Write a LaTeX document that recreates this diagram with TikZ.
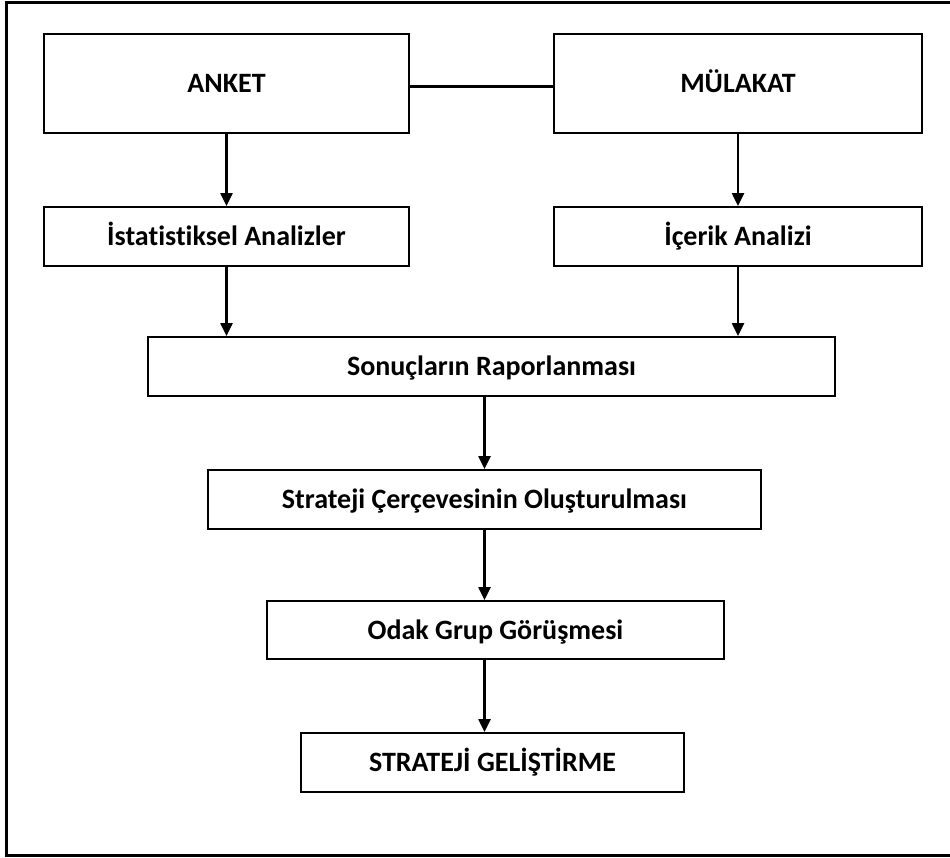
\documentclass[tikz,border=0pt]{standalone}
\usepackage{fontspec}
\setmainfont{Carlito}[Ligatures=NoCommon]
\usetikzlibrary{arrows.meta, calc}

\tikzset{
  stepbox/.style={draw, line width=1.8pt, rectangle, inner sep=0pt,
    text height=20pt, text depth=2pt,
    font=\fontsize{28}{32}\selectfont\bfseries, anchor=center},
  flow/.style={-{Triangle[width=12pt,length=13pt]}, line width=2.2pt}
}

\begin{document}
\begin{tikzpicture}[x=1pt,y=-1pt]
  \useasboundingbox (0,0) rectangle (950,857);
  % outer frame (right side cut off)
  \draw[line width=3pt] (950,2) -- (6,2) -- (6,855) -- (950,855);

  \node[stepbox, minimum width=365pt, minimum height=99pt] (ank) at (226.5,83.5) {ANKET};
  \node[stepbox, minimum width=368pt, minimum height=99pt] (mul) at (738,83.5) {MÜLAKAT};
  \node[stepbox, minimum width=365pt, minimum height=59pt] (ist) at (226.5,236.5) {İstatistiksel Analizler};
  \node[stepbox, minimum width=368pt, minimum height=59pt] (ick) at (738,236.5) {İçerik Analizi};
  \node[stepbox, minimum width=687pt, minimum height=59pt] (son) at (491.5,366.5) {Sonuçların Raporlanması};
  \node[stepbox, minimum width=553pt, minimum height=59pt] (str) at (484.5,499.5) {Strateji Çerçevesinin Oluşturulması};
  \node[stepbox, minimum width=457pt, minimum height=58pt] (odk) at (495.5,630) {Odak Grup Görüşmesi};
  \node[stepbox, minimum width=383pt, minimum height=59pt] (ger) at (492.5,762.5) {STRATEJİ GELİŞTİRME};

  \draw[line width=3pt] ([yshift=-3pt]ank.east) -- ([yshift=-3pt]mul.west);
  \path[flow]
    (ank) edge (ist)
    (mul) edge (ick)
    (ist.south) edge (ist.south |- son.north)
    (ick.south) edge (ick.south |- son.north)
    (son.south -| str.north) edge (str.north)
    (str.south) edge (str.south |- odk.north)
    (str.south |- odk.south) edge (str.south |- ger.north)
    ;
\end{tikzpicture}
\end{document}
